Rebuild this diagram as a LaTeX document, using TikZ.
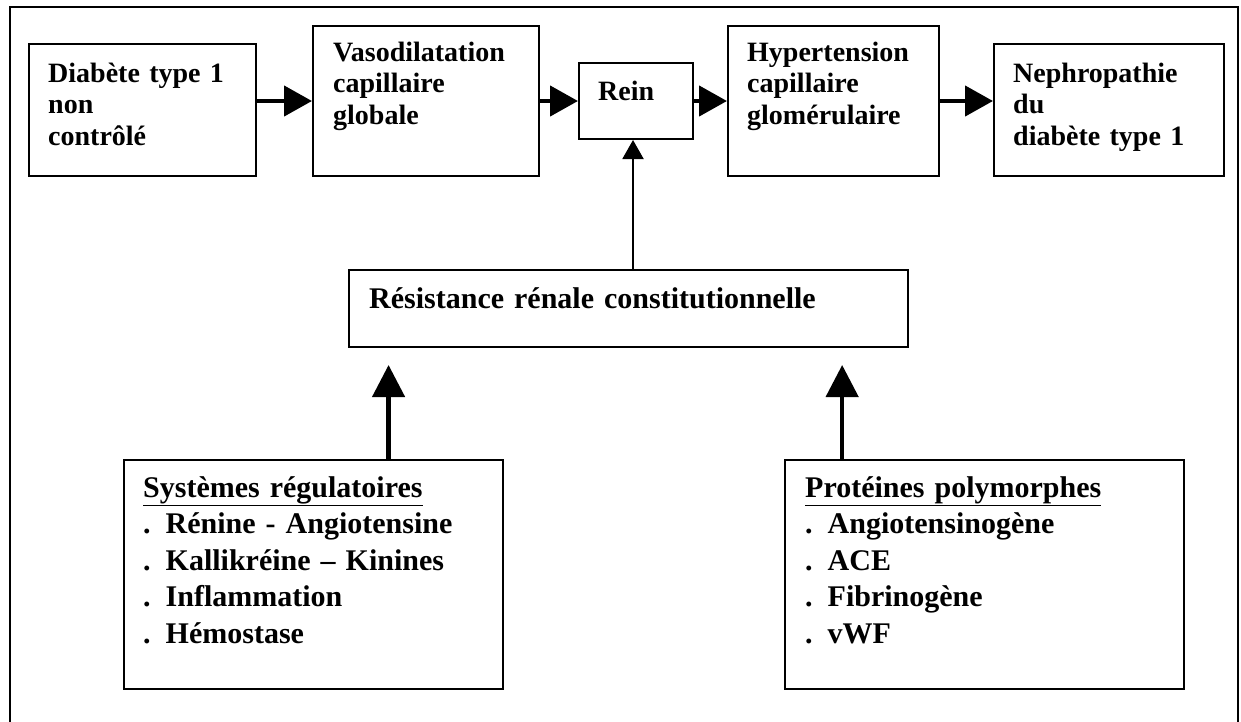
\documentclass[tikz,border=0pt]{standalone}
\usepackage{fontspec}
\setmainfont{Liberation Serif}
\usetikzlibrary{arrows.meta,calc}
\begin{document}
\begin{tikzpicture}[x=1pt,y=-1pt,
  box/.style={draw,line width=2pt,anchor=north west,inner sep=0pt},
  topfont/.style={font=\fontsize{28}{31.5}\selectfont\bfseries},
  lowfont/.style={font=\fontsize{30}{36.5}\selectfont\bfseries},
  txt/.style={anchor=base west,inner sep=0pt,align=left,text width=#1},
  bigarrow/.style={line width=4.5pt,-{Triangle[length=28pt 0,width=30pt 0]}},
  uparrow/.style={line width=4.5pt,-{Triangle[length=32pt 0,width=32pt 0]}},
  thinarrow/.style={line width=2pt,-{Triangle[length=19pt 0,width=21pt 0]}}]
\useasboundingbox (0,0) rectangle (1241,721);

% outer frame
\draw[line width=2pt] (10,730) -- (10,7) -- (1238,7) -- (1238,730);

% top row of boxes
\node[box,minimum width=227pt,minimum height=132pt] (diab) at (28,43) {};
\node[box,minimum width=226pt,minimum height=150pt] (vaso) at (312,25) {};
\node[box,minimum width=114pt,minimum height=76pt] (rein) at (578,62) {};
\node[box,minimum width=211pt,minimum height=150pt] (hyper) at (727,25) {};
\node[box,minimum width=230pt,minimum height=132pt] (nephro) at (993,43) {};

\node[topfont,txt=200pt] (tdiab) at (48,82) {Diabète type 1\\non\\contrôlé};
\node[topfont,txt=200pt] (tvaso) at (333,61) {Vasodilatation\\capillaire\\globale};
\node[topfont,txt=90pt] (trein) at (598,100) {Rein};
\node[topfont,txt=190pt] (thyper) at (747,61) {Hypertension\\capillaire\\glomérulaire};
\node[topfont,txt=200pt] (tnephro) at (1013,82) {Nephropathie\\du\\diabète type 1};

% middle box
\node[box,minimum width=559pt,minimum height=77pt] (res) at (348,269) {};
\node[lowfont,txt=520pt] (tres) at (369,308) {Résistance rénale constitutionnelle};

% bottom boxes
\node[box,minimum width=379pt,minimum height=229pt] (sys) at (123,459) {};
\node[box,minimum width=399pt,minimum height=229pt] (prot) at (784,459) {};

\node[lowfont,txt=350pt] (tsys) at (143,497)
  {\underline{Systèmes régulatoires}\\. Rénine - Angiotensine\\. Kallikréine – Kinines\\. Inflammation\\. Hémostase};
\node[lowfont,txt=350pt] (tprot) at (805,497)
  {\underline{Protéines polymorphes}\\. Angiotensinogène\\. ACE\\. Fibrinogène\\. vWF};

% causal chain
\draw[bigarrow] (diab.east |- vaso.west) -- (vaso.west);
\draw[bigarrow] (vaso.east) -- (rein.west);
\draw[bigarrow] (rein.east) -- (hyper.west);
\draw[bigarrow] (hyper.east) -- (nephro.west |- hyper.east);

% contributions to the kidney
\coordinate (reinin) at ($(rein.south)+(-3,0)$);
\draw[thinarrow] (reinin |- res.north) -- (reinin);
\coordinate (sysout) at ($(sys.north west)!0.697!(sys.north east)$);
\coordinate (protout) at ($(prot.north west)!0.145!(prot.north east)$);
\draw[uparrow,shorten >=17pt] (sysout) -- (sysout |- res.south);
\draw[uparrow,shorten >=17pt] (protout) -- (protout |- res.south);
\end{tikzpicture}
\end{document}
